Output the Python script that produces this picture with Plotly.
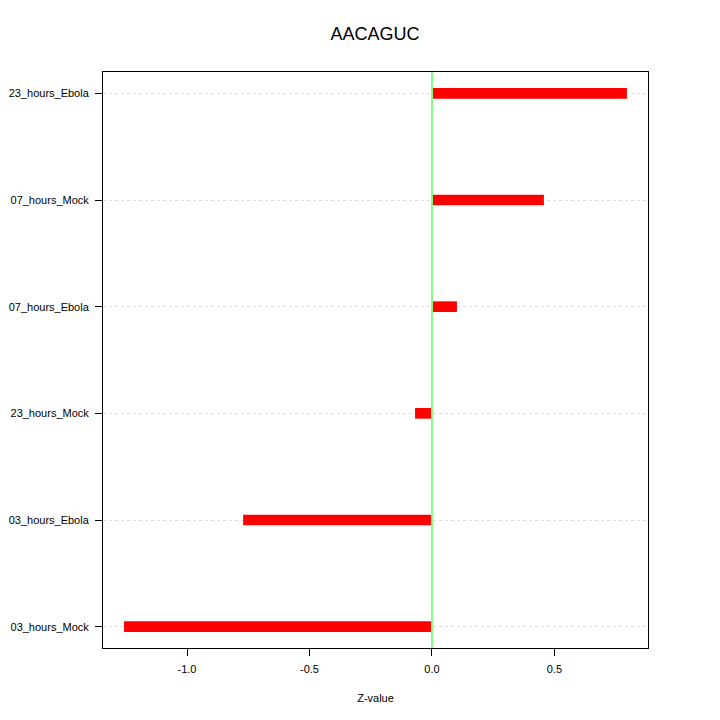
import plotly.graph_objects as go

categories = ["03_hours_Mock", "03_hours_Ebola", "23_hours_Mock", "07_hours_Ebola", "07_hours_Mock", "23_hours_Ebola"]
zvalues = [-1.257, -0.771, -0.069, 0.102, 0.457, 0.796]
xticks = [-1.0, -0.5, 0.0, 0.5]
xticklabels = ["-1.0", "-0.5", "0.0", "0.5"]

fig = go.Figure()
fig.add_trace(go.Bar(
    x=zvalues, y=categories, orientation="h", base=0,
    marker=dict(color="#FF0000", line=dict(width=0)),
    width=0.1,
))
fig.add_shape(type="line", x0=0, x1=0, y0=0, y1=1, xref="x", yref="paper",
              line=dict(color="#80FF80", width=2), layer="above")

font = "Liberation Sans, Arial, Helvetica, sans-serif"
fig.update_layout(
    width=712, height=712,
    paper_bgcolor="white", plot_bgcolor="white",
    margin=dict(l=95, r=72, t=64, b=72),
    showlegend=False,
    font=dict(family=font, size=11, color="black"),
    title=dict(text="AACAGUC", x=0.5154, xanchor="center", y=0.9635, yanchor="middle",
               font=dict(family=font, size=18, color="black")),
    xaxis=dict(range=[-1.343, 0.882], tickvals=xticks, ticktext=xticklabels,
               showgrid=False, zeroline=False, showline=True, linecolor="black", linewidth=1,
               mirror=True, ticks="outside", ticklen=7, tickcolor="black", automargin=False,
               ticklabelstandoff=4,
               title=dict(text="Z-value", font=dict(size=11), standoff=20)),
    yaxis=dict(categoryorder="array", categoryarray=categories, range=[-0.2, 5.2],
               showgrid=True, gridcolor="#DDDDDD", griddash="dot", gridwidth=1,
               layer="above traces", automargin=False, ticklabelstandoff=4,
               zeroline=False, showline=True, linecolor="black", linewidth=1,
               mirror=True, ticks="outside", ticklen=7, tickcolor="black"),
)
fig.write_html("out.html")
